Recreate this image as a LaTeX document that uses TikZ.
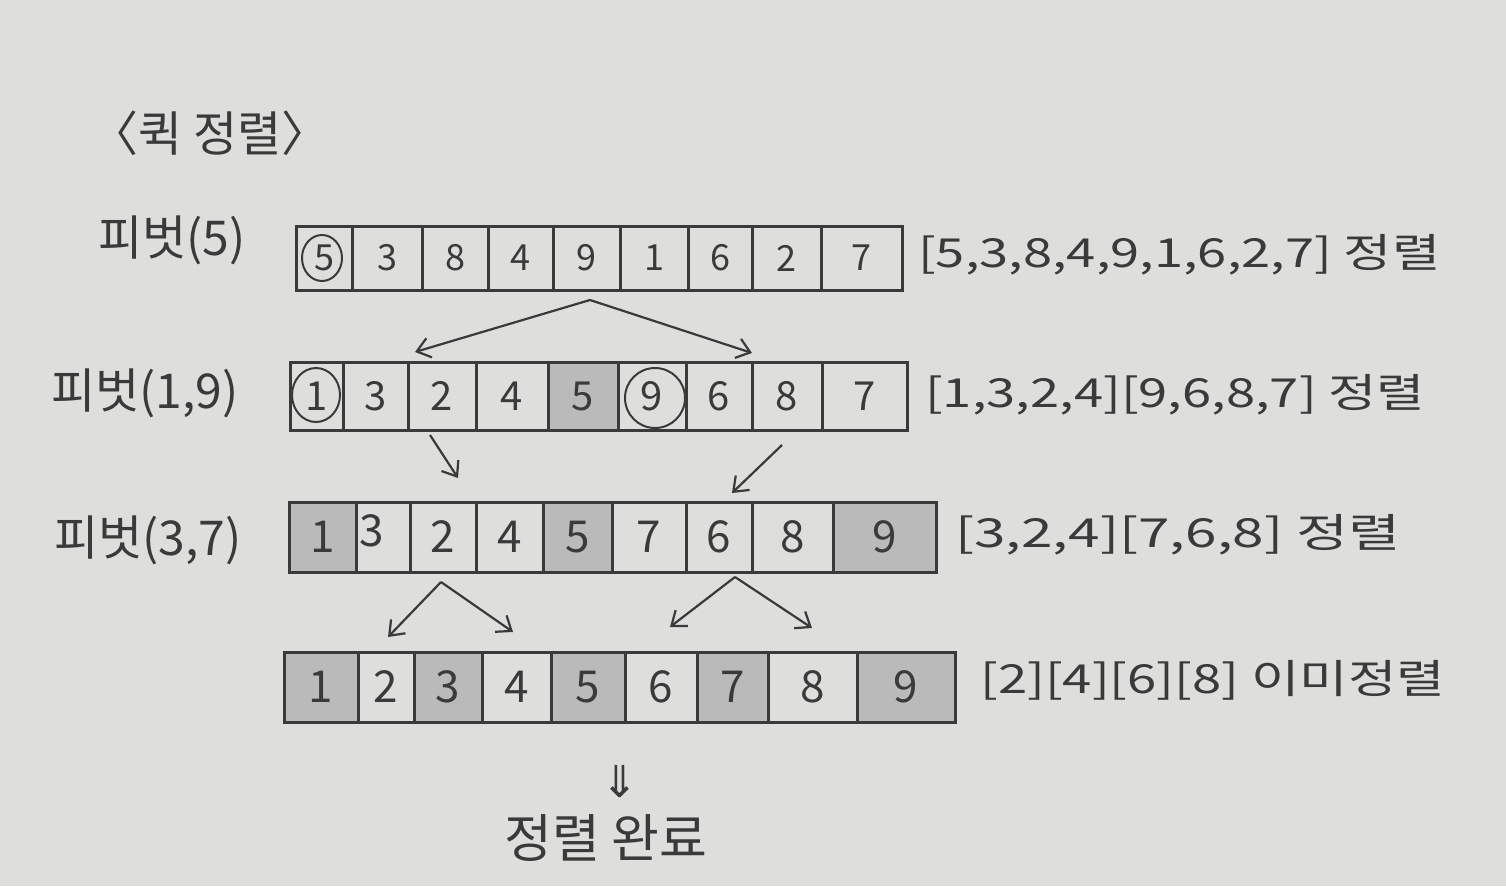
\documentclass[tikz,border=0pt]{standalone}
\usepackage{fontspec}
\usepackage{graphicx}
\setmainfont{Noto Sans CJK KR}
\newfontfamily\symfont{DejaVu Sans}
\usetikzlibrary{arrows.meta,shapes.geometric}
\definecolor{paper}{RGB}{222,222,220}
\definecolor{pencil}{RGB}{58,58,58}
\definecolor{shadeg}{RGB}{186,186,186}
\begin{document}
\begin{tikzpicture}[x=1pt,y=-1pt,
  cell/.style={draw=pencil, line width=3pt, inner sep=0pt, outer sep=0pt, text=pencil},
  hatch/.style={fill=shadeg},
  plain/.style={},
  arr/.style={draw=pencil, line width=2.2pt, -{Straight Barb[length=13pt,width=20pt,line width=2.2pt]}},
  lbl/.style={text=pencil, inner sep=0pt},
  ring/.style={draw=pencil, line width=2pt, ellipse, inner sep=0pt}]
\fill[paper] (0,0) rectangle (1506,886);
\useasboundingbox (0,0) rectangle (1506,886);

% title
\node[lbl, font=\fontsize{48}{50}\selectfont] (title) at (210,133) {〈퀵 정렬〉};

% row labels
\node[lbl, font=\fontsize{48}{50}\selectfont] (p1) at (172,240) {피벗(5)};
\node[lbl, font=\fontsize{48}{50}\selectfont] (p2) at (145,393) {피벗(1,9)};
\node[lbl, font=\fontsize{48}{50}\selectfont] (p3) at (148,540) {피벗(3,7)};

% row 1
\foreach \i/\a/\b/\t/\s in {1/296/352/5/plain, 2/352/422/3/plain, 3/422/488/8/plain, 4/488/553/4/plain, 5/553/620/9/plain, 6/620/688/1/plain, 7/688/752/6/plain, 8/752/821/2/plain, 9/821/902/7/plain}
  \node[cell, \s, minimum width={(\b-\a)*1pt}, minimum height=64pt, font=\fontsize{36}{38}\selectfont] (ra\i) at ({(\a+\b)/2},258) {\t};
% row 2
\foreach \i/\a/\b/\t/\s in {1/290/343/1/plain, 2/343/408/3/plain, 3/408/476/2/plain, 4/476/548/4/plain, 5/548/618/5/hatch, 6/618/686/9/plain, 7/686/752/6/plain, 8/752/822/8/plain, 9/822/907/7/plain}
  \node[cell, \s, minimum width={(\b-\a)*1pt}, minimum height=68pt, font=\fontsize{40}{42}\selectfont] (rb\i) at ({(\a+\b)/2},396) {\t};
% row 3
\foreach \i/\a/\b/\t/\s in {1/289/356/1/hatch, 2/356/410/\raisebox{12pt}{3}\hspace*{22pt}/plain, 3/410/476/2/plain, 4/476/543/4/plain, 5/543/612/5/hatch, 6/612/686/7/plain, 7/686/752/6/plain, 8/752/833/8/plain, 9/833/936/9/hatch}
  \node[cell, \s, minimum width={(\b-\a)*1pt}, minimum height=70pt, font=\fontsize{44}{46}\selectfont] (rc\i) at ({(\a+\b)/2},537) {\t};
% row 4
\foreach \i/\a/\b/\t/\s in {1/284/358/1/hatch, 2/358/414/2/plain, 3/414/482/3/hatch, 4/482/551/4/plain, 5/551/625/5/hatch, 6/625/697/6/plain, 7/697/768/7/hatch, 8/768/857/8/plain, 9/857/955/9/hatch}
  \node[cell, \s, minimum width={(\b-\a)*1pt}, minimum height=70pt, font=\fontsize{44}{46}\selectfont] (rd\i) at ({(\a+\b)/2},687) {\t};

% pivot rings
\node[ring, minimum width=40pt, minimum height=46pt] (o1) at (322,258) {};
\node[ring, minimum width=48pt, minimum height=54pt] (o2) at (316,395) {};
\node[ring, minimum width=60pt, minimum height=60pt] (o3) at (655,398) {};

% right-hand notes
\node[lbl, anchor=west, font=\fontsize{40}{42}\selectfont] (n1) at (918,255) {\resizebox{522pt}{\height}{[5,3,8,4,9,1,6,2,7] 정렬}};
\node[lbl, anchor=west, font=\fontsize{40}{42}\selectfont] (n2) at (925,395) {\resizebox{500pt}{\height}{[1,3,2,4][9,6,8,7] 정렬}};
\node[lbl, anchor=west, font=\fontsize{40}{42}\selectfont] (n3) at (955,535) {\resizebox{445pt}{\height}{[3,2,4][7,6,8] 정렬}};
\node[lbl, anchor=west, font=\fontsize{40}{42}\selectfont] (n4) at (980,680) {\resizebox{465pt}{\height}{[2][4][6][8] 이미정렬}};

% arrows row 1 -> row 2
\coordinate (a1) at (590,300);
\coordinate (a1l) at (415,352);
\coordinate (a1r) at (752,353);
\draw[arr] (a1) -- (a1l);
\draw[arr] (a1) -- (a1r);
% row 2 -> row 3
\coordinate (b1s) at (430,435);
\coordinate (b1e) at (458,478);
\coordinate (b2s) at (782,445);
\coordinate (b2e) at (732,493);
\draw[arr] (b1s) -- (b1e);
\draw[arr] (b2s) -- (b2e);
% row 3 -> row 4
\coordinate (c1) at (441,582);
\coordinate (c1l) at (388,637);
\coordinate (c1r) at (513,632);
\coordinate (c2) at (735,577);
\coordinate (c2l) at (670,627);
\coordinate (c2r) at (812,628);
\draw[arr] (c1) -- (c1l);
\draw[arr] (c1) -- (c1r);
\draw[arr] (c2) -- (c2l);
\draw[arr] (c2) -- (c2r);

% done
\node[lbl, font=\symfont\fontsize{44}{46}\selectfont] (dn) at (620,782) {⇓};
\node[lbl, font=\fontsize{52}{54}\selectfont] (done) at (606,838) {정렬 완료};
\end{tikzpicture}
\end{document}
